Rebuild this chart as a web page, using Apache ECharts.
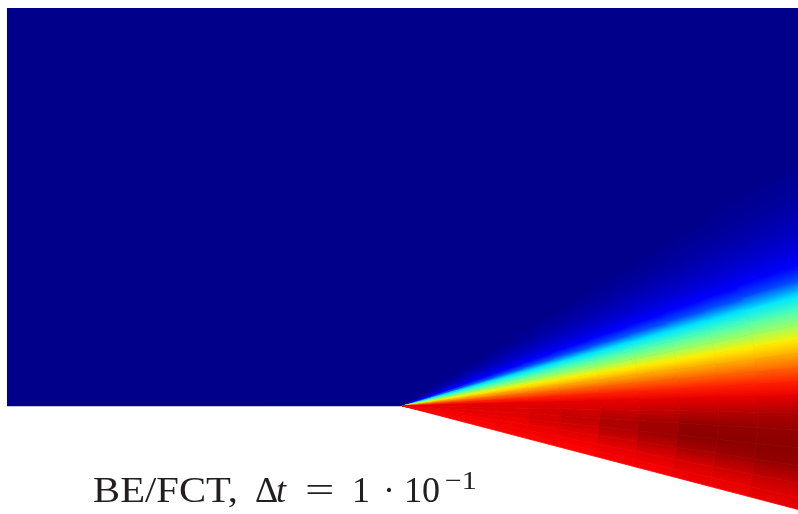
<!DOCTYPE html>
<html>
<head>
<meta charset="utf-8">
<script src="https://cdn.jsdelivr.net/npm/echarts@6/dist/echarts.min.js"></script>
<style>html,body{margin:0;padding:0;background:#fff}#c{width:798px;height:514px}</style>
</head>
<body>
<div id="c"></div>
<script>
// Domain outline (upper rectangle) in data coordinates
const rectX = [-1, 1, 1, -1];
const rectY = [1, 1, 0, 0];
const rectValue = 0;

// Fan mesh emanating from the corner (0,0): ray angles (deg) and radial band edges
const angles = [40, 32, 28, 25, 22, 19.5, 17.5, 15.5, 13.5, 11.5, 9.5, 7.5, 5.5, 3.5, 1.5, -1, -3.5, -6, -8.5, -11, -13, -14.57];
const radii = [0, 0.08, 0.16, 0.24, 0.32, 0.4, 0.5, 0.6, 0.7, 0.8, 0.9, 1.2];

// Field values (0..1) for each radial band (rows) and ray angle (columns)
const band0  = [0, 0, .02, .045, .08, .125, .20, .35, .45, .53, .64, .71, .78, .845, .90, .90, .89, .89, .88, .88, .88, .88];
const band1  = [0, 0, .02, .045, .08, .125, .20, .35, .45, .53, .64, .71, .78, .845, .90, .90, .90, .89, .89, .88, .88, .88];
const band2  = [0, 0, .02, .045, .08, .125, .20, .35, .45, .53, .64, .71, .78, .845, .90, .91, .90, .90, .89, .88, .88, .87];
const band3  = [0, 0, .02, .045, .08, .125, .20, .35, .45, .53, .64, .71, .78, .845, .90, .91, .91, .90, .89, .89, .88, .87];
const band4  = [0, 0, .02, .045, .08, .125, .20, .35, .45, .53, .64, .71, .78, .845, .90, .92, .92, .92, .90, .89, .88, .87];
const band5  = [0, 0, .02, .045, .08, .125, .20, .35, .45, .53, .64, .71, .78, .845, .90, .92, .94, .93, .91, .89, .88, .87];
const band6  = [0, 0, .02, .045, .08, .125, .20, .35, .45, .53, .64, .71, .78, .845, .90, .93, .96, .96, .93, .90, .89, .88];
const band7  = [0, 0, .02, .045, .08, .125, .20, .35, .45, .53, .64, .71, .78, .845, .90, .94, .975, .98, .95, .91, .89, .88];
const band8  = [0, 0, .02, .045, .08, .125, .20, .35, .45, .53, .64, .71, .78, .845, .90, .95, .99, 1.0, .97, .92, .90, .89];
const band9  = [0, 0, .02, .045, .08, .125, .20, .35, .45, .53, .64, .71, .78, .845, .90, .955, .99, 1.0, .98, .93, .90, .89];
const band10 = [0, 0, .02, .045, .08, .125, .20, .35, .45, .53, .64, .71, .78, .845, .90, .96, .99, 1.0, .99, .94, .91, .90];
const values = [band0, band1, band2, band3, band4, band5, band6, band7, band8, band9, band10];

const jetStops = ['#00008b', '#0000ff', '#0080ff', '#00ffff', '#80ff80', '#ffff00', '#ff8000', '#ff0000', '#8b0000'];
function jet(v) { return echarts.color.lerp(Math.max(0, Math.min(1, v)), jetStops); }

const cells = [];
for (let b = 0; b < radii.length - 1; b++) {
  for (let a = 0; a < angles.length - 1; a++) cells.push([a, b]);
}

const chart = echarts.init(document.getElementById('c'), null, { renderer: 'canvas' });
const D = Math.PI / 180;
const txt = (text, left, top, size, extra) => Object.assign({
  type: 'text', left: left, top: top,
  style: { text: text, font: size + 'px "Liberation Serif"', fill: '#231f20' }
}, extra || {});
chart.setOption({
  animation: false,
  backgroundColor: '#ffffff',
  grid: { left: 7, right: 0, top: 8, bottom: 0 },
  xAxis: { type: 'value', min: -1, max: 1, show: false },
  yAxis: { type: 'value', min: -0.2714, max: 1, show: false },
  series: [
    {
      type: 'custom', coordinateSystem: 'cartesian2d', clip: true,
      data: [[0, 0]],
      renderItem: function (params, api) {
        const pts = rectX.map((x, i) => api.coord([x, rectY[i]]));
        const c = jet(rectValue);
        return { type: 'polygon', shape: { points: pts }, style: { fill: c, stroke: c, lineWidth: 0.5 } };
      }
    },
    {
      type: 'custom', coordinateSystem: 'cartesian2d', clip: true,
      data: cells,
      renderItem: function (params, api) {
        const ai = api.value(0), bi = api.value(1);
        const a1 = angles[ai] * D, a2 = angles[ai + 1] * D;
        const r1 = radii[bi], r2 = radii[bi + 1];
        const pts = [
          api.coord([r1 * Math.cos(a1), r1 * Math.sin(a1)]),
          api.coord([r2 * Math.cos(a1), r2 * Math.sin(a1)]),
          api.coord([r2 * Math.cos(a2), r2 * Math.sin(a2)]),
          api.coord([r1 * Math.cos(a2), r1 * Math.sin(a2)])
        ];
        const rm = (r1 + r2) / 2;
        const m1 = api.coord([rm * Math.cos(a1), rm * Math.sin(a1)]);
        const m2 = api.coord([rm * Math.cos(a2), rm * Math.sin(a2)]);
        const c1 = jet(values[bi][ai]), c2 = jet(values[bi][ai + 1]);
        const g = new echarts.graphic.LinearGradient(m1[0], m1[1], m2[0], m2[1],
          [{ offset: 0, color: c1 }, { offset: 1, color: c2 }], true);
        return { type: 'polygon', shape: { points: pts }, style: { fill: g, stroke: g, lineWidth: 0.8 } };
      }
    }
  ],
  graphic: [
    txt('BE/FCT,', 93, 475, 36, { scaleX: 1.13 }),
    txt('Δ', 255, 475, 36),
    { type: 'text', left: 276, top: 475, style: { text: 't', font: 'italic 36px "Liberation Serif"', fill: '#231f20' } },
    txt('=', 305, 475, 36, { scaleX: 1.45 }),
    txt('1', 352, 475, 36),
    txt('·', 383, 475, 36),
    txt('10', 404, 475, 36),
    txt('−1', 445, 469, 26, { scaleX: 1.15 })
  ]
});
</script>
</body>
</html>
